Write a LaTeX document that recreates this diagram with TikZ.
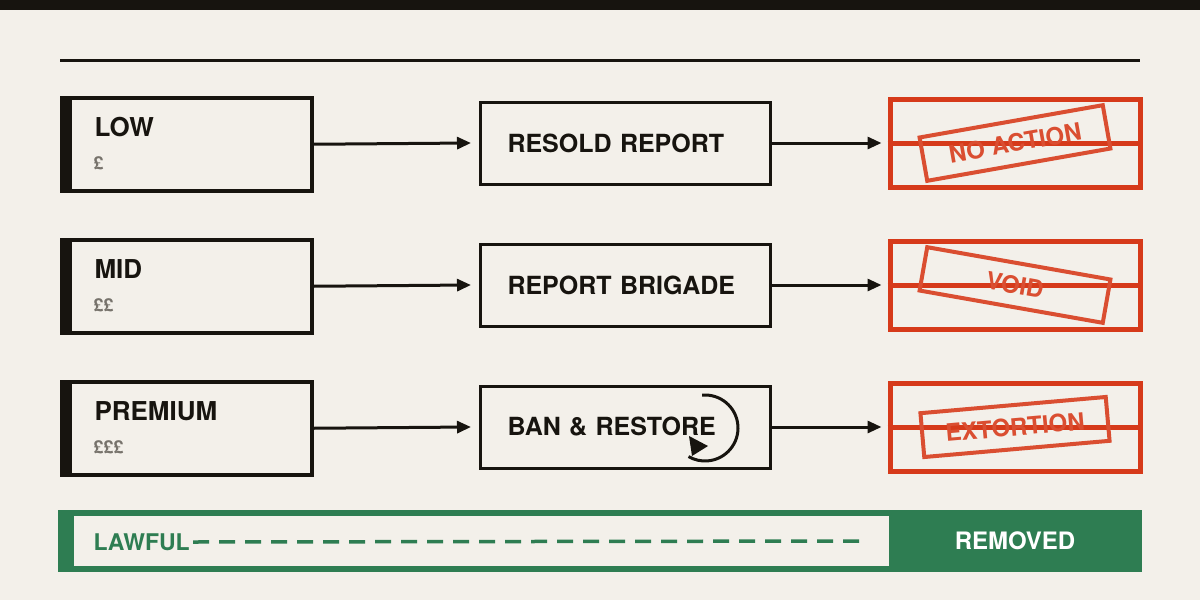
\documentclass[tikz,border=0pt]{standalone}
\usepackage{fontspec}
\setmainfont{TeX Gyre Heros}
\usetikzlibrary{arrows.meta,positioning}
\definecolor{ink}{HTML}{17140F}
\definecolor{paper}{HTML}{F3F0EA}
\definecolor{stampred}{HTML}{D63A1A}
\definecolor{lawgreen}{HTML}{2E7D52}
\definecolor{greytext}{HTML}{77736C}
\begin{document}
\begin{tikzpicture}[x=1pt,y=-1pt,
  tier/.style={draw=ink,line width=3.5pt,minimum width=250pt,minimum height=93pt,anchor=north west},
  action/.style={draw=ink,line width=3pt,minimum width=290pt,minimum height=82pt,text width=236pt,align=left,font=\bfseries\fontsize{25}{26}\selectfont,text=ink},
  result/.style={draw=stampred,line width=5pt,minimum width=250pt,minimum height=88pt},
  stamp/.style={draw=stampred!90!white,text=stampred!90!white,line width=4pt,minimum width=186pt,minimum height=44pt,font=\bfseries\fontsize{24}{24}\selectfont},
  link/.style={ink,line width=3pt,-{Triangle[length=14pt,width=12pt]}}
  ]
\fill[paper] (0,0) rectangle (1200,600);
\fill[ink] (0,0) rectangle (1200,10);
\draw[ink,line width=3pt] (60,60) -- (1140,60);
% rows
\foreach \y/\tname/\price/\sname/\stxt/\rot [count=\i] in {
  143/LOW/\pounds/RESOLD REPORT/NO ACTION/10,
  285/MID/\pounds\pounds/REPORT BRIGADE/VOID/-10,
  427/PREMIUM/\pounds\pounds\pounds/BAN \& RESTORE/EXTORTION/5}{
  \node[tier] (tier\i) at (60,\y-47) {};
  \fill[ink] (tier\i.north west) rectangle ([xshift=12pt]tier\i.south west);
  \node[anchor=west,font=\bfseries\fontsize{26}{28}\selectfont,text=ink] (tname\i) at (91,\y-16) {\tname};
  \node[anchor=west,font=\bfseries\fontsize{18}{18}\selectfont,text=greytext] (price\i) at (90,\y+20) {\price};
  \node[action,anchor=west] (step\i) at (479,\y) {\sname};
  \node[result] (res\i) at (1015,\y) {};
  \draw[stampred,line width=5pt] (res\i.west) -- (res\i.east);
  \node[stamp,rotate=\rot] (stamp\i) at (1015,\y) {\stxt};
  \draw[link] (tier\i.east) -- ([xshift=-8pt]step\i.west);
  \draw[link] (step\i.east) -- ([xshift=-6pt]res\i.west);
}
% loop on ban & restore
\coordinate (loopc) at (705,428);
\draw[ink,line width=3pt] ([shift={(-95:33)}]loopc) arc[start angle=-95,end angle=120,radius=33];
\fill[ink] (708,446) -- (689,436) -- (692,456) -- cycle;
% bottom scale
\fill[lawgreen] (58,510) rectangle (1142,572);
\fill[paper] (74,516) rectangle (889,566);
\node[anchor=west,font=\bfseries\fontsize{23}{24}\selectfont,text=lawgreen] (lawful) at (90,542) {LAWFUL};
\coordinate (dashend) at (866,541);
\draw[lawgreen,line width=3.5pt,dash pattern=on 16pt off 10pt] (lawful.east) -- (dashend);
\node[font=\bfseries\fontsize{24}{24}\selectfont,text=white] (removed) at (1015,541) {REMOVED};
\end{tikzpicture}
\end{document}
